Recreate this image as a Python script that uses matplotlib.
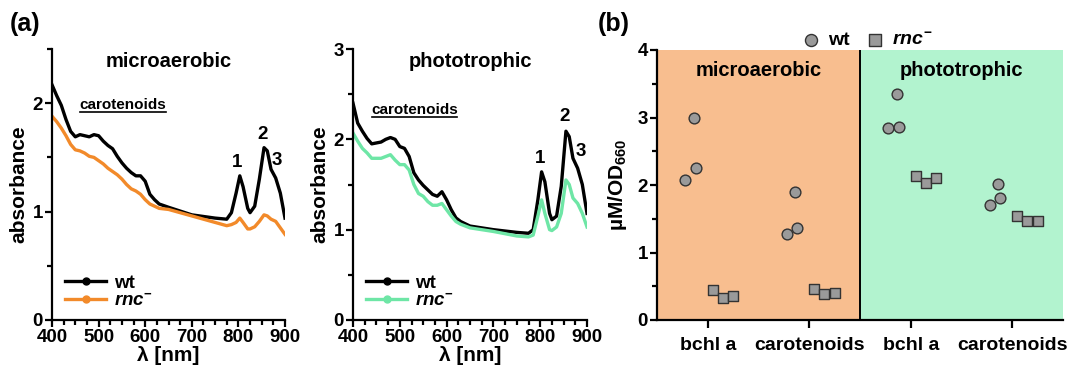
import numpy as np
import matplotlib.pyplot as plt
from matplotlib.ticker import MultipleLocator

plt.rcParams['font.family'] = 'Liberation Sans'
plt.rcParams['font.weight'] = 'bold'
plt.rcParams['mathtext.fontset'] = 'custom'
plt.rcParams['mathtext.rm'] = 'Liberation Sans:bold'
plt.rcParams['mathtext.it'] = 'Liberation Sans:italic:bold'
plt.rcParams['mathtext.bf'] = 'Liberation Sans:bold'

# spectra, microaerobic
wl_micro = [400, 410, 420, 430, 440, 450, 460, 470, 480, 490, 500, 510, 520, 530, 540, 550, 560, 570, 580, 590,
            600, 610, 620, 630, 650, 700, 750, 775, 785, 795, 803, 810, 820, 825, 835, 845, 855, 862, 870, 880, 890, 900]
wt_micro = [2.17, 2.07, 1.98, 1.85, 1.74, 1.69, 1.71, 1.70, 1.69, 1.71, 1.70, 1.65, 1.61, 1.58, 1.51, 1.45, 1.40, 1.36, 1.33, 1.33,
            1.28, 1.16, 1.11, 1.07, 1.04, 0.97, 0.94, 0.93, 0.99, 1.17, 1.33, 1.23, 1.03, 0.99, 1.05, 1.30, 1.59, 1.56, 1.39, 1.31, 1.17, 0.94]
rnc_micro = [1.88, 1.83, 1.77, 1.70, 1.62, 1.57, 1.56, 1.54, 1.51, 1.50, 1.47, 1.44, 1.40, 1.37, 1.34, 1.30, 1.25, 1.21, 1.19, 1.16,
             1.11, 1.07, 1.05, 1.03, 1.02, 0.96, 0.90, 0.87, 0.88, 0.90, 0.94, 0.90, 0.84, 0.84, 0.86, 0.91, 0.97, 0.96, 0.93, 0.91, 0.85, 0.79]

# spectra, phototrophic
wl_photo = wl_micro
wt_photo = [2.40, 2.18, 2.09, 2.01, 1.95, 1.96, 1.97, 2.00, 2.02, 2.00, 1.92, 1.90, 1.81, 1.63, 1.55, 1.49, 1.44, 1.39, 1.37, 1.42,
            1.33, 1.22, 1.13, 1.09, 1.04, 1.00, 0.97, 0.96, 1.00, 1.33, 1.64, 1.53, 1.18, 1.11, 1.15, 1.48, 2.09, 2.03, 1.79, 1.68, 1.50, 1.18]
rnc_photo = [2.07, 1.98, 1.90, 1.85, 1.79, 1.79, 1.79, 1.81, 1.83, 1.77, 1.72, 1.72, 1.66, 1.50, 1.40, 1.37, 1.31, 1.27, 1.27, 1.29,
             1.22, 1.15, 1.09, 1.06, 1.02, 0.98, 0.93, 0.92, 0.94, 1.15, 1.33, 1.18, 1.00, 0.99, 1.03, 1.18, 1.55, 1.50, 1.35, 1.29, 1.18, 1.03]

# pigment content (b)
categories = ['bchl a', 'carotenoids', 'bchl a', 'carotenoids']
wt_pig = [[2.07, 2.99, 2.25], [1.28, 1.90, 1.37], [2.84, 3.35, 2.86], [1.70, 2.02, 1.81]]
rnc_pig = [[0.44, 0.33, 0.35], [0.46, 0.39, 0.40], [2.14, 2.03, 2.10], [1.54, 1.46, 1.47]]
wt_off = [-0.22, -0.14, -0.12]
rnc_off = [0.05, 0.15, 0.25]

BLACK = '#000000'
ORANGE = '#F28A2A'
GREEN = '#6EE6A6'

fig = plt.figure(figsize=(10.67, 3.7), dpi=100)


def style_axes(ax, size=13.5):
    for s in ['top', 'right']:
        ax.spines[s].set_visible(False)
    for s in ['left', 'bottom']:
        ax.spines[s].set_linewidth(1.6)
    ax.tick_params(which='major', length=5, width=1.6, labelsize=size, pad=1.5)
    ax.tick_params(which='minor', length=3.5, width=1.6)
    for lab in ax.get_xticklabels() + ax.get_yticklabels():
        lab.set_fontweight('bold')


def spectrum(rect, wl, wt, rnc, col, ymax, title, car_y, car_x, peaks):
    ax = fig.add_axes(rect)
    ax.plot(wl, wt, color=BLACK, lw=2.4)
    ax.plot(wl, rnc, color=col, lw=2.4)
    ax.set_xlim(400, 900)
    ax.set_ylim(0, ymax)
    ax.xaxis.set_major_locator(MultipleLocator(100))
    ax.xaxis.set_minor_locator(MultipleLocator(25))
    ax.yaxis.set_major_locator(MultipleLocator(1))
    ax.yaxis.set_minor_locator(MultipleLocator(0.5))
    ax.set_xlabel('λ [nm]', fontsize=15, fontweight='bold', labelpad=0)
    ax.set_ylabel('absorbance', fontsize=15, fontweight='bold', labelpad=3)
    ax.text(650, ymax * 0.955, title, ha='center', va='center', fontsize=14.5, fontweight='bold')
    ax.text(np.mean(car_x), car_y, 'carotenoids', ha='center', va='bottom', fontsize=11, fontweight='bold')
    ax.plot(car_x, [car_y, car_y], color=BLACK, lw=1.2)
    for lbl, px, py in peaks:
        ax.text(px, py, lbl, ha='center', va='center', fontsize=13.5, fontweight='bold')
    h1, = ax.plot([], [], color=BLACK, lw=2.4, marker='o', markersize=5)
    h2, = ax.plot([], [], color=col, lw=2.4, marker='o', markersize=5)
    ax.legend([h1, h2], ['wt', r'$\it{rnc}^{-}$'], loc='lower left', frameon=False, fontsize=13.5,
              handlelength=2.2, handletextpad=0.4, labelspacing=0.05, borderaxespad=0.3,
              bbox_to_anchor=(0.0, -0.01))
    style_axes(ax)
    return ax


spectrum([52 / 1067, 50 / 370, 233 / 1067, 271 / 370], wl_micro, wt_micro, rnc_micro, ORANGE, 2.5,
         'microaerobic', 1.92, [461, 644], [('1', 798, 1.45), ('2', 851, 1.71), ('3', 882, 1.47)])
spectrum([353 / 1067, 50 / 370, 234 / 1067, 271 / 370], wl_photo, wt_photo, rnc_photo, GREEN, 3.0,
         'phototrophic', 2.25, [441, 623], [('1', 800, 1.79), ('2', 851, 2.25), ('3', 886, 1.87)])

# panel b
ax = fig.add_axes([657 / 1067, 50 / 370, 406 / 1067, 270 / 370])
ax.set_xlim(-0.5, 3.5)
ax.set_ylim(0, 4)
ax.axvspan(-0.5, 1.5, color='#F8BE8F', zorder=0)
ax.axvspan(1.5, 3.5, color='#B2F3CF', zorder=0)
ax.axvline(1.5, color=BLACK, lw=1.4, zorder=1)
for i in range(4):
    ax.scatter([i + o for o in wt_off], wt_pig[i], marker='o', s=60, color='#9A9A9A',
               edgecolor='#333333', linewidth=1.0, zorder=3)
    ax.scatter([i + o for o in rnc_off], rnc_pig[i], marker='s', s=55, color='#9A9A9A',
               edgecolor='#333333', linewidth=1.0, zorder=3)
ax.set_xticks(range(4))
ax.set_xticklabels(categories)
ax.yaxis.set_major_locator(MultipleLocator(1))
ax.yaxis.set_minor_locator(MultipleLocator(0.5))
ax.set_ylabel(r'µM/OD$_{660}$', fontsize=15, fontweight='bold', labelpad=6)
ax.text(0.5, 3.7, 'microaerobic', ha='center', va='center', fontsize=14.5, fontweight='bold')
ax.text(2.5, 3.7, 'phototrophic', ha='center', va='center', fontsize=14.5, fontweight='bold')
style_axes(ax)
ax.tick_params(axis='x', which='major', length=6, labelsize=14, pad=6)
hw = ax.scatter([], [], marker='o', s=75, color='#9A9A9A', edgecolor='#333333', linewidth=1.0)
hr = ax.scatter([], [], marker='s', s=65, color='#9A9A9A', edgecolor='#333333', linewidth=1.0)
fig.legend([hw, hr], ['wt', r'$\it{rnc}^{-}$'], loc='center', bbox_to_anchor=(862 / 1067, 1 - 40 / 370),
           ncol=2, frameon=False, fontsize=14, handletextpad=-0.1, columnspacing=0.3, borderpad=0)

fig.text(10 / 1067, 1 - 24 / 370, '(a)', fontsize=18, fontweight='bold', va='center')
fig.text(598 / 1067, 1 - 24 / 370, '(b)', fontsize=18, fontweight='bold', va='center')

fig.savefig('out.png', dpi=100)
